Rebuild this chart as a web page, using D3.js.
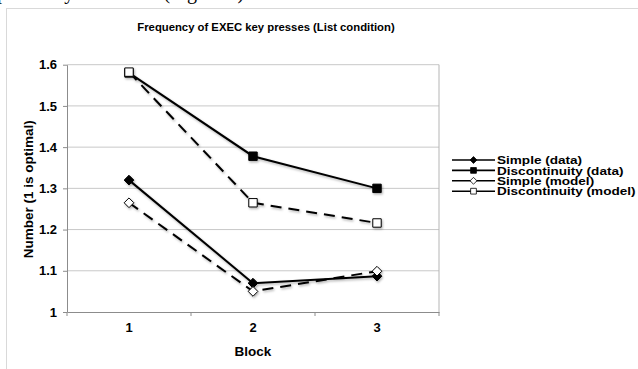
<!DOCTYPE html>
<html>
<head>
<meta charset="utf-8">
<script src="https://cdn.jsdelivr.net/npm/d3@7"></script>
<style>
  body { margin: 0; background: #fff; }
  svg { display: block; }
  text { font-family: "Liberation Sans", Arial, Helvetica, sans-serif; font-weight: bold; fill: #000; }
</style>
</head>
<body>
<div id="chart"></div>
<script>
// chart data
var blocks = ['1', '2', '3'];
var simpleData = [1.32, 1.07, 1.087];
var discData = [1.58, 1.378, 1.30];
var simpleModel = [1.265, 1.05, 1.099];
var discModel = [1.582, 1.265, 1.216];
var yTicks = [1, 1.1, 1.2, 1.3, 1.4, 1.5, 1.6];

var series = [
  { name: 'Simple (data)', values: simpleData, marker: 'diamond', fill: '#000', dash: null },
  { name: 'Discontinuity (data)', values: discData, marker: 'square', fill: '#000', dash: null },
  { name: 'Simple (model)', values: simpleModel, marker: 'diamond', fill: '#fff', dash: '11,7' },
  { name: 'Discontinuity (model)', values: discModel, marker: 'square', fill: '#fff', dash: '11,7' }
];

var fullWidth = 638, fullHeight = 369;
var margin = { top: 64.7, right: 199, bottom: 57, left: 67 };
var width = fullWidth - margin.left - margin.right;
var height = fullHeight - margin.top - margin.bottom;

var svg = d3.select('#chart').append('svg')
  .attr('width', fullWidth)
  .attr('height', fullHeight);

// soft shadow like the spreadsheet chart
var defs = svg.append('defs');
var shadow = defs.append('filter').attr('id', 'shadow')
  .attr('x', '-20%').attr('y', '-20%').attr('width', '140%').attr('height', '140%');
shadow.append('feDropShadow')
  .attr('dx', 1).attr('dy', 1.5).attr('stdDeviation', 0.8)
  .attr('flood-color', '#000').attr('flood-opacity', 0.3);

// bottom of a page line above the chart (cut off in the original too)
svg.append('text')
  .attr('x', -3).attr('y', -1)
  .style('font-family', '"Liberation Serif", "Times New Roman", serif')
  .style('font-weight', 'normal')
  .style('font-size', '20px')
  .text('pected by the model (Figure 6).');

// chart frame
svg.append('rect')
  .attr('x', 6.5).attr('y', 8.5)
  .attr('width', fullWidth).attr('height', fullHeight)
  .attr('fill', 'none').attr('stroke', '#d9d9d9');

svg.append('text')
  .attr('x', 266).attr('y', 31)
  .attr('text-anchor', 'middle')
  .style('font-size', '11.3px')
  .text('Frequency of EXEC key presses (List condition)');

var g = svg.append('g')
  .attr('transform', 'translate(' + margin.left + ',' + margin.top + ')');

var x = d3.scaleBand().domain(blocks).range([0, width]);
var y = d3.scaleLinear().domain([1, 1.6]).range([height, 0]);

// gridlines
g.append('g').selectAll('line.grid')
  .data(yTicks.slice(1))
  .enter().append('line')
  .attr('x1', 0).attr('x2', width)
  .attr('y1', function(d) { return y(d); })
  .attr('y2', function(d) { return y(d); })
  .attr('stroke', '#c8c8c8').attr('stroke-width', 1);

// right edge of plot area
g.append('line')
  .attr('x1', width).attr('x2', width)
  .attr('y1', 0).attr('y2', height)
  .attr('stroke', '#b5b5b5');

var yAxis = d3.axisLeft(y).tickValues(yTicks).tickSize(4).tickSizeOuter(0)
  .tickFormat(function(d) { return d === 1 ? '1' : d3.format('.1f')(d); });
var yAxisG = g.append('g').call(yAxis);
yAxisG.select('.domain').attr('stroke', '#8c8c8c');
yAxisG.selectAll('.tick line').attr('stroke', '#8c8c8c');
yAxisG.selectAll('.tick text').attr('x', -10).style('font-size', '13px')
  .style('font-family', '"Liberation Sans", Arial, sans-serif').style('font-weight', 'bold');

var xAxis = d3.axisBottom(x).tickSize(0).tickSizeOuter(0);
var xAxisG = g.append('g').attr('transform', 'translate(0,' + height + ')').call(xAxis);
xAxisG.select('.domain').attr('stroke', '#8c8c8c');
xAxisG.selectAll('.tick text').attr('y', 11).style('font-size', '13px')
  .style('font-family', '"Liberation Sans", Arial, sans-serif').style('font-weight', 'bold');
// ticks between categories
xAxisG.selectAll('line.sep')
  .data(blocks.concat(['end']))
  .enter().append('line')
  .attr('x1', function(d, i) { return i * x.bandwidth(); })
  .attr('x2', function(d, i) { return i * x.bandwidth(); })
  .attr('y1', 0).attr('y2', 4)
  .attr('stroke', '#8c8c8c');

svg.append('text')
  .attr('x', margin.left + width / 2).attr('y', 356)
  .attr('text-anchor', 'middle')
  .style('font-size', '13.5px')
  .text('Block');

svg.append('text')
  .attr('transform', 'translate(33,' + (margin.top + height / 2 + 1) + ') rotate(-90)')
  .attr('text-anchor', 'middle')
  .style('font-size', '13.5px')
  .text('Number (1 is optimal)');

function markerPath(type, size) {
  return d3.symbol().type(type === 'diamond' ? d3.symbolDiamond2 : d3.symbolSquare2).size(size)();
}

var line = d3.line()
  .x(function(d, i) { return x(blocks[i]) + x.bandwidth() / 2; })
  .y(function(d) { return y(d); });

var plot = g.append('g').attr('filter', 'url(#shadow)');
series.forEach(function(s) {
  plot.append('path')
    .datum(s.values)
    .attr('d', line)
    .attr('fill', 'none')
    .attr('stroke', '#000')
    .attr('stroke-width', 2)
    .attr('stroke-dasharray', s.dash);
  plot.selectAll(null)
    .data(s.values)
    .enter().append('path')
    .attr('transform', function(d, i) {
      return 'translate(' + (x(blocks[i]) + x.bandwidth() / 2) + ',' + y(d) + ')';
    })
    .attr('d', markerPath(s.marker, s.marker === 'diamond' ? 60 : 90))
    .attr('fill', s.fill)
    .attr('stroke', '#000')
    .attr('stroke-width', 1);
});

// legend
var legend = svg.append('g').attr('transform', 'translate(452,160)');
var rows = legend.selectAll('g.row')
  .data(series)
  .enter().append('g')
  .attr('transform', function(d, i) { return 'translate(0,' + (i * 10.4) + ')'; });
rows.append('line')
  .attr('x1', 0).attr('x2', 43)
  .attr('stroke', '#000').attr('stroke-width', 1.6);
rows.append('path')
  .attr('transform', 'translate(21.5,0)')
  .attr('d', function(d) { return markerPath(d.marker, d.marker === 'diamond' ? 30 : 42); })
  .attr('fill', function(d) { return d.fill; })
  .attr('stroke', '#000').attr('stroke-width', 0.8);
rows.append('text')
  .attr('transform', 'translate(45,0) scale(1.18,1)')
  .attr('dy', '0.36em')
  .style('font-size', '11.5px')
  .text(function(d) { return d.name; });
</script>
</body>
</html>
